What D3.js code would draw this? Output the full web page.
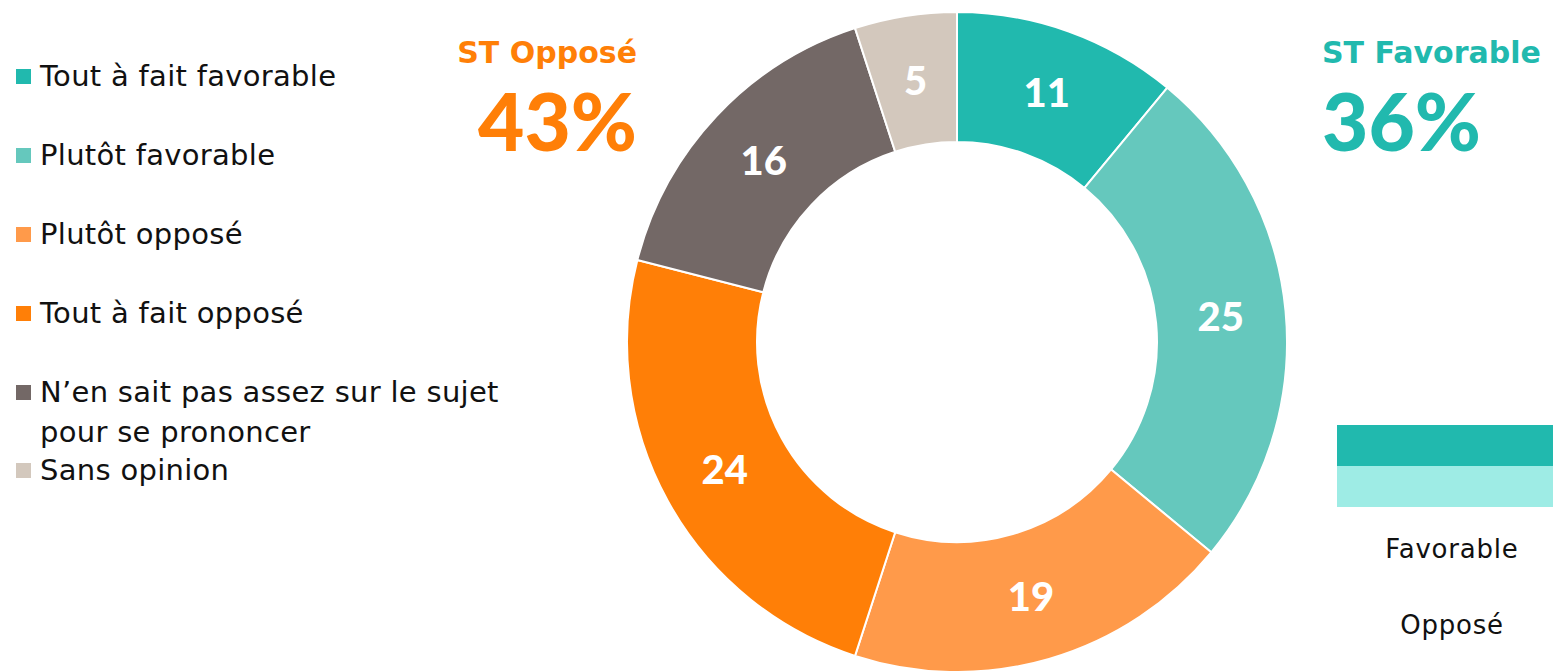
<!DOCTYPE html>
<html>
<head>
<meta charset="utf-8">
<script src="https://cdn.jsdelivr.net/npm/d3@7/dist/d3.min.js"></script>
<style>
  html, body { margin: 0; padding: 0; background: #ffffff; }
  svg { display: block; }
  text { font-family: "DejaVu Sans", "Noto Sans", sans-serif; }
  .num { font-family: Lato, "DejaVu Sans", sans-serif; font-weight: 900; }
</style>
</head>
<body>
<svg id="chart" width="1553" height="671"></svg>
<script>
// Survey answers, in clockwise order from 12 o'clock
const categories = [
  "Tout à fait favorable",
  "Plutôt favorable",
  "Plutôt opposé",
  "Tout à fait opposé",
  "N’en sait pas assez sur le sujet pour se prononcer",
  "Sans opinion"
];
const values = [11, 25, 19, 24, 16, 5];
const colors = ["#21b9ae", "#65c8bd", "#ff9a4a", "#ff7f07", "#736866", "#d3c8bd"];

// Legend rows (the long label wraps onto two lines)
const legendLines = [
  ["Tout à fait favorable"],
  ["Plutôt favorable"],
  ["Plutôt opposé"],
  ["Tout à fait opposé"],
  ["N’en sait pas assez sur le sujet", "pour se prononcer"],
  ["Sans opinion"]
];
const legendY = [76, 155, 234, 313, 392, 470];

// Sub-totals
const totalLabels = ["ST Opposé", "ST Favorable"];
const totalValues = [43, 36];
const totalColors = ["#ff7f07", "#21b9ae"];

// Small stacked key at the bottom right
const keyLabels = ["Favorable", "Opposé"];
const keyColors = ["#21b9ae", "#9eece5"];

const svg = d3.select("#chart");

// ---- Donut ----
const cx = 957, cy = 342, rOuter = 330, rInner = 200;
const pie = d3.pie().sort(null).value(d => d);
const arcs = pie(values);
const arc = d3.arc().innerRadius(rInner).outerRadius(rOuter);
const labelArc = d3.arc().innerRadius(265).outerRadius(265);

const g = svg.append("g").attr("transform", `translate(${cx},${cy})`);
g.selectAll("path.slice")
  .data(arcs)
  .join("path")
  .attr("class", "slice")
  .attr("d", arc)
  .attr("fill", (d, i) => colors[i])
  .attr("stroke", "#ffffff")
  .attr("stroke-width", 2);

g.selectAll("text.val")
  .data(arcs)
  .join("text")
  .attr("class", "val num")
  .attr("transform", d => `translate(${labelArc.centroid(d)})`)
  .attr("text-anchor", "middle")
  .attr("dy", "0.36em")
  .attr("fill", "#ffffff")
  .attr("font-size", 40)
  .text(d => d.data);

// ---- Legend ----
const legend = svg.append("g");
legendLines.forEach((lines, i) => {
  legend.append("rect")
    .attr("x", 16).attr("y", legendY[i] - 7)
    .attr("width", 15).attr("height", 15)
    .attr("fill", colors[i]);
  lines.forEach((line, j) => {
    legend.append("text")
      .attr("x", 40)
      .attr("y", legendY[i] + j * 40)
      .attr("dy", "0.36em")
      .attr("font-size", 29)
      .attr("letter-spacing", 0.3)
      .attr("fill", "#111111")
      .text(line);
  });
});

// ---- Sub-totals ----
const totals = [
  { x: 637, anchor: "end" },
  { x: 1322, anchor: "start" }
];
totals.forEach((t, i) => {
  svg.append("text")
    .attr("x", t.x).attr("y", 63)
    .attr("text-anchor", t.anchor)
    .attr("font-weight", "bold")
    .attr("font-size", 30)
    .attr("fill", totalColors[i])
    .text(totalLabels[i]);
  svg.append("text")
    .attr("class", "num")
    .attr("x", t.x).attr("y", 151)
    .attr("text-anchor", t.anchor)
    .attr("font-size", 80)
    .attr("fill", totalColors[i])
    .text(totalValues[i] + "%");
});

// ---- Bottom-right key ----
const keyBandY = [425, 466];
keyColors.forEach((c, i) => {
  svg.append("rect")
    .attr("x", 1337).attr("y", keyBandY[i])
    .attr("width", 216).attr("height", 41)
    .attr("fill", c);
});
const keyTextY = [558, 634];
keyLabels.forEach((l, i) => {
  svg.append("text")
    .attr("x", 1452).attr("y", keyTextY[i])
    .attr("text-anchor", "middle")
    .attr("font-size", 26)
    .attr("letter-spacing", 0.8)
    .attr("fill", "#111111")
    .text(l);
});
</script>
</body>
</html>
